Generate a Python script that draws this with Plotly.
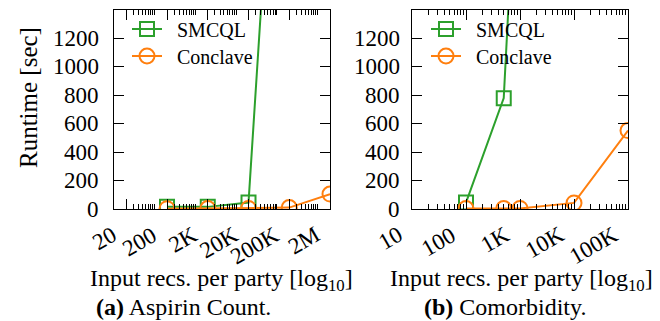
import math
import plotly.graph_objects as go

# ---------------- data ----------------
# (a) Aspirin Count
aspirin_x = [200, 2000, 20000, 200000, 2000000]
aspirin_smcql_x = [200, 2000, 20000, 200000]
aspirin_smcql = [15, 15, 45, 4500]
aspirin_conclave = [2, 3, 4, 10, 105]
aspirin_ticks = [20, 200, 2000, 20000, 200000, 2000000]
aspirin_ticktext = ["20", "200", "2K", "20K", "200K", "2M"]

# (b) Comorbidity
comorb_smcql_x = [100, 500, 1000]
comorb_smcql = [45, 780, 3000]
comorb_conclave_x = [100, 500, 1000, 10000, 100000]
comorb_conclave = [3, 3, 4, 43, 552]
comorb_ticks = [10, 100, 1000, 10000, 100000]
comorb_ticktext = ["10", "100", "1K", "10K", "100K"]

y_ticks = [0, 200, 400, 600, 800, 1000, 1200]
y_ticktext = [str(v) for v in y_ticks]

GREEN = "#2ca02c"
ORANGE = "#ff7f0e"
FONT = "Liberation Serif"

W, H = 660, 321

def px_x(p):
    return p / W

def px_y(p):
    return 1 - p / H

# minor tick positions
aspirin_minor = [m * 10 ** e for e in range(1, 6) for m in [3, 4, 5, 6, 7, 8, 9, 10]]
comorb_minor = [m * 10 ** e for e in range(1, 5) for m in [2, 3, 4, 5, 6, 7, 8, 9]]

fig = go.Figure()

def add_series(xs, ys, name, color, symbol, xa, ya, legend, size):
    fig.add_trace(go.Scatter(
        x=xs, y=ys, name=name, mode="lines+markers",
        line=dict(color=color, width=2),
        marker=dict(symbol=symbol, size=size, color=color,
                    line=dict(color=color, width=2)),
        xaxis=xa, yaxis=ya, legend=legend,
    ))

PAD = "\u00a0\u00a0"
add_series(aspirin_smcql_x, aspirin_smcql, PAD + "SMCQL", GREEN, "square-open", "x", "y", "legend", 14)
add_series(aspirin_x, aspirin_conclave, PAD + "Conclave", ORANGE, "circle-open", "x", "y", "legend2", 15)
add_series(comorb_smcql_x, comorb_smcql, PAD + "SMCQL", GREEN, "square-open", "x2", "y2", "legend3", 14)
add_series(comorb_conclave_x, comorb_conclave, PAD + "Conclave", ORANGE, "circle-open", "x2", "y2", "legend4", 15)

ydom = [px_y(201), px_y(2)]

common_x = dict(
    type="log", showline=True, linecolor="black", linewidth=1, mirror="allticks",
    ticks="inside", ticklen=10, tickwidth=1, tickcolor="black",
    showticklabels=False, showgrid=False, zeroline=False,
)
common_y = dict(
    range=[0, 1400], tickmode="array", tickvals=y_ticks,
    showline=True, linecolor="black", linewidth=1, mirror="allticks",
    ticks="inside", ticklen=10, tickwidth=1, tickcolor="black",
    showticklabels=False, showgrid=False, zeroline=False,
    domain=ydom,
)

def legend_box(xp, yp):
    return dict(x=px_x(xp), y=px_y(yp), xanchor="left", yanchor="middle",
                bgcolor="rgba(0,0,0,0)", borderwidth=0,
                font=dict(family=FONT, size=20, color="black"),
                itemsizing="trace")

fig.update_layout(
    width=W, height=H,
    margin=dict(l=0, r=0, t=0, b=0),
    paper_bgcolor="white", plot_bgcolor="white",
    font=dict(family=FONT, color="black"),
    xaxis=dict(common_x, domain=[px_x(106), px_x(322)], anchor="y",
               range=[1, math.log10(2000000)], tickmode="array", tickvals=aspirin_ticks,
               minor=dict(tickmode="array", tickvals=aspirin_minor, ticks="inside",
                          ticklen=5, tickwidth=1, tickcolor="black")),
    yaxis=dict(common_y, anchor="x"),
    xaxis2=dict(common_x, domain=[px_x(404), px_x(620)], anchor="y2",
                range=[1, 5], tickmode="array", tickvals=comorb_ticks,
                minor=dict(tickmode="array", tickvals=comorb_minor, ticks="inside",
                           ticklen=5, tickwidth=1, tickcolor="black")),
    yaxis2=dict(common_y, anchor="x2"),
    legend=legend_box(119, 21),
    legend2=legend_box(119, 48),
    legend3=legend_box(418, 21),
    legend4=legend_box(418, 48),
    showlegend=True,
)

ann_font = dict(family=FONT, size=24, color="black")
annotations = [
    dict(text="Runtime [sec]", x=px_x(20), y=px_y(90), textangle=-90,
         font=dict(family=FONT, size=25, color="black"),
         xref="paper", yref="paper", xanchor="center", yanchor="middle"),
    dict(text="Input recs. per party [log<sub>10</sub>]", x=px_x(213), y=px_y(272), font=ann_font,
         xref="paper", yref="paper", xanchor="center", yanchor="middle"),
    dict(text="Input recs. per party [log<sub>10</sub>]", x=px_x(513), y=px_y(272), font=ann_font,
         xref="paper", yref="paper", xanchor="center", yanchor="middle"),
    dict(text="<b>(a)</b> Aspirin Count.", x=px_x(175), y=px_y(299), font=ann_font,
         xref="paper", yref="paper", xanchor="center", yanchor="middle"),
    dict(text="<b>(b)</b> Comorbidity.", x=px_x(497), y=px_y(299), font=ann_font,
         xref="paper", yref="paper", xanchor="center", yanchor="middle"),
]

xtick_font = dict(family=FONT, size=23, color="black")
ytick_font = dict(family=FONT, size=23, color="black")
# rotated x tick labels (right end at the tick, like gnuplot "rotate by 30 right")
for xref, vals, texts in [("x", aspirin_ticks, aspirin_ticktext),
                          ("x2", comorb_ticks, comorb_ticktext)]:
    for v, t in zip(vals, texts):
        annotations.append(dict(
            text=t, x=math.log10(v), y=px_y(211), xref=xref, yref="paper",
            xanchor="right", yanchor="top", xshift=-3, textangle=-30,
            font=xtick_font,
        ))
# y tick labels
for yref, xpos in [("y", 93), ("y2", 394)]:
    for v, t in zip(y_ticks, y_ticktext):
        annotations.append(dict(
            text=t, x=px_x(xpos), y=v, xref="paper", yref=yref,
            xanchor="right", yanchor="middle", font=ytick_font,
        ))
for a in annotations:
    a["showarrow"] = False
fig.update_layout(annotations=annotations)

fig.write_html("out.html")
